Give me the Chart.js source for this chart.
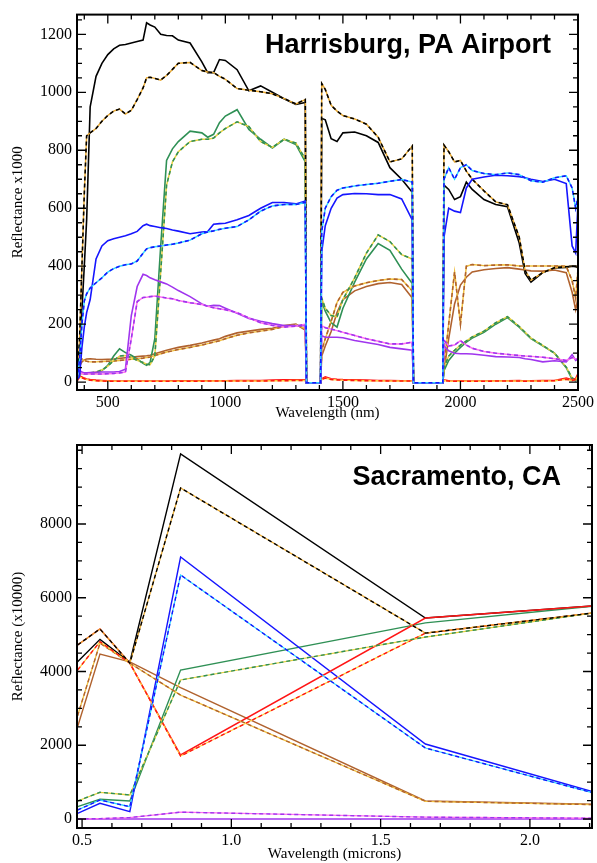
<!DOCTYPE html>
<html>
<head>
<meta charset="utf-8">
<script src="https://cdn.jsdelivr.net/npm/chart.js@4.4.1/dist/chart.umd.min.js"></script>
<style>
  html, body { margin: 0; padding: 0; background: #fff; }
  canvas { display: block; }
</style>
</head>
<body>
<canvas id="harrisburg" width="597" height="425"></canvas>
<canvas id="sacramento" width="597" height="438"></canvas>
<script>
// ---- Harrisburg, PA Airport (reflectance x1000 vs wavelength in nm) ----
var topNm = [
  370, 380, 390, 400, 410, 425, 450, 475, 500, 525,
  550, 575, 600, 625, 650, 665, 680, 700, 725, 750,
  775, 800, 850, 900, 925, 950, 975, 1000, 1050, 1100,
  1150, 1200, 1250, 1300, 1340, 1345, 1405, 1410, 1425, 1450,
  1475, 1500, 1550, 1600, 1650, 1700, 1750, 1795, 1800, 1925,
  1930, 1950, 1975, 2000, 2025, 2050, 2100, 2150, 2200, 2250,
  2275, 2300, 2350, 2400, 2450, 2475, 2490, 2500
];
var blackSolid = [
  30, 100, 250, 400, 560, 950, 1055, 1100, 1130, 1150,
  1162, 1165, 1170, 1175, 1180, 1240, 1232, 1225, 1200, 1196,
  1195, 1180, 1170, 1105, 1068, 1068, 1113, 1110, 1078, 1005,
  1022, 1000, 978, 958, 965, -2, -2, 910, 905, 840,
  830, 860, 863, 850, 827, 740, 700, 655, -2, -2,
  680, 665, 630, 640, 690, 665, 630, 613, 605, 480,
  375, 345, 378, 394, 396, 400, 398, 395
];
var blackDashed = [
  20, 150, 400, 650, 850, 860, 875, 900, 920, 935,
  942, 925, 938, 975, 1015, 1050, 1052, 1048, 1042, 1058,
  1079, 1100, 1103, 1075, 1070, 1068, 1055, 1045, 1013, 1007,
  1002, 995, 978, 960, 975, -2, -2, 1030, 1010, 955,
  935, 920, 908, 890, 845, 760, 770, 815, -2, -2,
  818, 795, 760, 765, 728, 700, 660, 622, 612, 500,
  385, 352, 378, 395, 398, 400, 400, 398
];
var blueSolid = [
  10, 20, 120, 190, 240, 285, 425, 470, 488, 495,
  500, 505, 512, 520, 540, 545, 540, 537, 533, 530,
  525, 521, 512, 518, 520, 545, 547, 548, 560, 575,
  600, 620, 620, 615, 625, -2, -2, 450, 540, 600,
  635, 647, 651, 650, 647, 647, 632, 560, -2, -2,
  500, 600, 590, 585, 670, 700, 708, 714, 712, 709,
  705, 700, 692, 700, 685, 470, 445, 620
];
var blueDashed = [
  10, 80, 200, 280, 305, 325, 343, 360, 380, 392,
  400, 405, 408, 418, 445, 460, 464, 467, 470, 473,
  476, 480, 490, 512, 518, 522, 527, 531, 537, 560,
  590, 608, 613, 613, 620, -2, -2, 520, 600, 640,
  662, 670, 677, 682, 686, 693, 699, 690, -2, -2,
  700, 740, 700, 740, 750, 730, 720, 716, 722, 716,
  705, 695, 690, 705, 712, 670, 600, 640
];
var greenSolid = [
  20, 30, 30, 30, 30, 31, 32, 40, 58, 90,
  115, 102, 93, 80, 65, 58, 68, 150, 470, 765,
  805, 830, 866, 860, 845, 855, 895, 918, 940, 872,
  838, 808, 838, 820, 760, -2, -2, 280, 245, 205,
  190, 255, 345, 425, 478, 455, 390, 340, -2, -2,
  40, 75, 100, 120, 138, 152, 172, 200, 223, 190,
  170, 150, 125, 100, 50, 10, 5, 20
];
var greenDashed = [
  20, 28, 30, 30, 30, 32, 35, 42, 55, 75,
  90, 92, 85, 75, 68, 62, 60, 90, 380, 680,
  760, 795, 830, 838, 838, 842, 860, 875, 898, 882,
  830, 810, 838, 825, 770, -2, -2, 290, 255, 230,
  225, 285, 360, 445, 508, 485, 440, 425, -2, -2,
  50, 90, 110, 128, 142, 156, 176, 205, 226, 192,
  172, 152, 127, 100, 52, 15, 8, 25
];
var purpleSolid = [
  30, 40, 35, 32, 32, 33, 34, 35, 35, 35,
  37, 45, 230, 330, 372, 368, 360, 353, 346, 339,
  328, 316, 295, 270, 262, 265, 264, 255, 238, 220,
  210, 202, 195, 195, 195, -2, -2, 160, 155, 155,
  155, 153, 144, 137, 130, 120, 115, 110, -2, -2,
  125, 108, 100, 98, 98, 97, 93, 88, 87, 85,
  81, 78, 70, 74, 70, 95, 75, 80
];
var purpleDashed = [
  25, 30, 30, 28, 28, 28, 28, 28, 29, 30,
  32, 35, 150, 278, 292, 293, 295, 297, 294, 290,
  288, 282, 274, 268, 262, 257, 253, 250, 240, 222,
  205, 196, 190, 193, 200, -2, -2, 195, 188, 183,
  178, 172, 161, 150, 141, 132, 132, 138, -2, -2,
  145, 125, 128, 143, 128, 117, 106, 100, 96, 92,
  90, 89, 86, 81, 75, 85, 80, 78
];
var brownSolid = [
  40, 55, 70, 77, 80, 81, 79, 78, 79, 80,
  82, 84, 86, 88, 90, 91, 93, 98, 104, 110,
  115, 120, 127, 135, 140, 145, 150, 158, 170, 176,
  182, 186, 195, 200, 180, -2, -2, 90, 125, 175,
  240, 285, 315, 330, 340, 344, 337, 290, -2, -2,
  40, 150, 270, 335, 362, 380, 388, 392, 395, 390,
  387, 384, 383, 387, 378, 310, 250, 290
];
var brownDashed = [
  50, 75, 80, 75, 72, 70, 70, 71, 72, 73,
  75, 77, 79, 81, 83, 85, 87, 92, 98, 104,
  108, 113, 120, 128, 133, 138, 143, 150, 162, 170,
  176, 182, 192, 198, 185, -2, -2, 110, 150, 210,
  275, 310, 332, 343, 351, 356, 354, 315, -2, -2,
  55, 200, 380, 200, 400, 406, 402, 404, 405, 401,
  401, 401, 401, 401, 400, 350, 290, 390
];
var redSolid = [
  8, 22, 18, 14, 11, 9, 7, 6, 5, 4,
  4, 4, 4, 4, 4, 4, 4, 4, 4, 4,
  5, 5, 5, 5, 5, 5, 5, 5, 6, 6,
  6, 7, 8, 8, 8, -2, -2, 12, 18, 12,
  10, 9, 8, 7, 6, 6, 5, 5, -2, -2,
  8, 5, 4, 5, 4, 4, 4, 5, 5, 6,
  4, 5, 6, 6, 14, 8, 12, 30
];
var redDashed = [
  5, 18, 15, 12, 9, 7, 5, 4, 3, 3,
  3, 3, 3, 3, 3, 3, 3, 3, 3, 3,
  3, 3, 3, 3, 4, 4, 4, 4, 4, 4,
  4, 5, 5, 6, 6, -2, -2, 9, 14, 9,
  8, 7, 6, 5, 5, 4, 4, 4, -2, -2,
  6, 4, 3, 3, 3, 3, 3, 4, 4, 4,
  3, 4, 4, 5, 10, 6, 9, 22
];
var topXTicks = [500, 1000, 1500, 2000, 2500];
var topYTicks = [0, 200, 400, 600, 800, 1000, 1200];

// ---- Sacramento, CA (reflectance x10000 vs wavelength in microns) ----
var botMicrons = [0.485, 0.56, 0.66, 0.83, 1.65, 2.215];
var sBlackSolid = [4266, 4872, 4250, 9900, 5450, 5780];
var sBlackDashed = [4719, 5153, 4226, 8976, 5040, 5590];
var sBlueSolid = [154, 425, 198, 7105, 2034, 732];
var sBlueDashed = [244, 515, 333, 6617, 1925, 700];
var sGreenSolid = [334, 534, 488, 4040, 5320, 5776];
var sGreenDashed = [488, 724, 651, 3770, 4935, 5590];
var sRedSolid = [4719, 5153, 4226, 1736, 5450, 5780];
var sRedDashed = [4040, 4810, 4226, 1708, 5040, 5590];
var sBrownSolid = [2500, 4475, 4260, 3560, 490, 400];
var sBrownDashed = [2800, 4770, 4226, 3360, 480, 390];
var sPurpleSolid = [0, 0, 0, 0, 0, 0];
var sPurpleDashed = [0, 10, 40, 185, 50, 20];
var botXTicks = [0.5, 1.0, 1.5, 2.0];
var botYTicks = [0, 2000, 4000, 6000, 8000];

// colours: line colour and the tint seen in the gaps of the dashed copy
var BLACK = "#000000", BLUE = "#1515ff", GREEN = "#2f9055",
    PURPLE = "#a035ee", BROWN = "#b0622e", RED = "#ff1515";
var GAP = {};
GAP[BLACK] = "#e8a830"; GAP[BLUE] = "#30d8ff"; GAP[GREEN] = "#e8d040";
GAP[PURPLE] = "#ff70f0"; GAP[BROWN] = "#f0c040"; GAP[RED] = "#ffd040";

var tickFont = { family: '"Liberation Serif", "Times New Roman", serif', size: 16 };

function points(xs, ys) {
  return xs.map(function (x, i) { return { x: x, y: ys[i] }; });
}

// a solid series is one dataset; a dashed series is dashes over a tinted line
function series(xs, ys, color, dashed, width) {
  var main = {
    data: points(xs, ys), borderColor: color, borderWidth: width,
    borderDash: dashed ? [4, 3] : [], pointRadius: 0, tension: 0, showLine: true, fill: false
  };
  if (!dashed) return [main];
  var under = {
    data: points(xs, ys), borderColor: GAP[color], borderWidth: width * 0.9,
    pointRadius: 0, tension: 0, showLine: true, fill: false
  };
  return [main, under];
}

function xAxis(min, max, ticks, fmt) {
  return {
    type: "linear", min: min, max: max,
    afterBuildTicks: function (s) { s.ticks = ticks.map(function (v) { return { value: v }; }); },
    afterFit: function (s) { s.height = 35; },
    grid: { display: false, drawTicks: false },
    border: { display: false },
    ticks: { padding: 3, color: "#000", font: tickFont, maxRotation: 0, autoSkip: false, callback: fmt }
  };
}

function yAxis(min, max, ticks) {
  return {
    type: "linear", min: min, max: max,
    afterBuildTicks: function (s) { s.ticks = ticks.map(function (v) { return { value: v }; }); },
    afterFit: function (s) { s.width = 77; },
    grid: { display: false, drawTicks: false },
    border: { display: false },
    ticks: { padding: 5, color: "#000", font: tickFont, autoSkip: false,
             callback: function (v) { return String(v); } }
  };
}

// frame, inward ticks on all four sides, panel title and axis titles
function framePlugin(cfg) {
  return {
    id: "frame",
    afterDraw: function (chart) {
      var ctx = chart.ctx, a = chart.chartArea, x = chart.scales.x, y = chart.scales.y;
      ctx.save();
      ctx.strokeStyle = "#000";
      ctx.lineWidth = 1.3;
      ctx.beginPath();
      function xt(v, len) {
        var p = x.getPixelForValue(v);
        ctx.moveTo(p, a.bottom); ctx.lineTo(p, a.bottom - len);
        ctx.moveTo(p, a.top); ctx.lineTo(p, a.top + len);
      }
      function yt(v, len) {
        var p = y.getPixelForValue(v);
        ctx.moveTo(a.left, p); ctx.lineTo(a.left + len, p);
        ctx.moveTo(a.right, p); ctx.lineTo(a.right - len, p);
      }
      function minors(scale, step, major, draw) {
        for (var k = Math.ceil(scale.min / step - 1e-9); k * step <= scale.max + 1e-9; k++) {
          var v = k * step;
          var isMajor = major.some(function (m) { return Math.abs(m - v) < step / 10; });
          draw(v, isMajor ? 9 : 5);
        }
      }
      minors(x, cfg.xStep, cfg.xMajor, xt);
      minors(y, cfg.yStep, cfg.yMajor, yt);
      ctx.stroke();
      ctx.lineWidth = 2;
      ctx.strokeRect(a.left, a.top, a.right - a.left, a.bottom - a.top);

      ctx.fillStyle = "#000";
      ctx.font = 'bold 27px "Liberation Sans", Arial, sans-serif';
      ctx.textAlign = "right";
      ctx.textBaseline = "alphabetic";
      ctx.fillText(cfg.title, a.right - cfg.titleInset, a.top + cfg.titleDrop);

      ctx.font = '15px "Liberation Serif", "Times New Roman", serif';
      ctx.textAlign = "center";
      ctx.textBaseline = "middle";
      ctx.fillText(cfg.xTitle, (a.left + a.right) / 2, a.bottom + cfg.xTitleDrop);
      ctx.translate(18.5, (a.top + a.bottom) / 2);
      ctx.rotate(-Math.PI / 2);
      ctx.fillText(cfg.yTitle, 0, 0);
      ctx.restore();
    }
  };
}

var W1 = 1.6;
new Chart(document.getElementById("harrisburg").getContext("2d"), {
  type: "scatter",
  data: {
    datasets: [].concat(
      series(topNm, blueDashed, BLUE, true, W1),
      series(topNm, blueSolid, BLUE, false, W1),
      series(topNm, purpleDashed, PURPLE, true, W1),
      series(topNm, purpleSolid, PURPLE, false, W1),
      series(topNm, redDashed, RED, true, W1),
      series(topNm, redSolid, RED, false, W1),
      series(topNm, blackDashed, BLACK, true, W1),
      series(topNm, greenDashed, GREEN, true, W1),
      series(topNm, brownDashed, BROWN, true, W1),
      series(topNm, greenSolid, GREEN, false, W1),
      series(topNm, brownSolid, BROWN, false, W1),
      series(topNm, blackSolid, BLACK, false, W1)
    )
  },
  options: {
    responsive: false,
    animation: false,
    events: [],
    layout: { autoPadding: false, padding: { left: 0, right: 15, top: 11, bottom: 0 } },
    plugins: { legend: { display: false }, tooltip: { enabled: false } },
    scales: {
      x: xAxis(369, 2500, topXTicks, function (v) { return String(v); }),
      y: yAxis(-27, 1268, topYTicks)
    }
  },
  plugins: [framePlugin({
    xStep: 100, xMajor: topXTicks, yStep: 50, yMajor: topYTicks,
    title: "Harrisburg, PA Airport", titleInset: 27, titleDrop: 38,
    xTitle: "Wavelength (nm)", xTitleDrop: 23,
    yTitle: "Reflectance x1000"
  })]
});

var W2 = 1.4;
new Chart(document.getElementById("sacramento").getContext("2d"), {
  type: "scatter",
  data: {
    datasets: [].concat(
      series(botMicrons, sPurpleDashed, PURPLE, true, W2),
      series(botMicrons, sPurpleSolid, PURPLE, false, W2),
      series(botMicrons, sBlackDashed, BLACK, true, W2),
      series(botMicrons, sBlueDashed, BLUE, true, W2),
      series(botMicrons, sGreenDashed, GREEN, true, W2),
      series(botMicrons, sRedDashed, RED, true, W2),
      series(botMicrons, sBrownDashed, BROWN, true, W2),
      series(botMicrons, sRedSolid, RED, false, W2),
      series(botMicrons, sBlueSolid, BLUE, false, W2),
      series(botMicrons, sGreenSolid, GREEN, false, W2),
      series(botMicrons, sBrownSolid, BROWN, false, W2),
      series(botMicrons, sBlackSolid, BLACK, false, W2)
    )
  },
  options: {
    responsive: false,
    animation: false,
    events: [],
    layout: { autoPadding: false, padding: { left: 0, right: 5, top: 20, bottom: 0 } },
    plugins: { legend: { display: false }, tooltip: { enabled: false } },
    scales: {
      x: xAxis(0.483, 2.208, botXTicks, function (v) { return v.toFixed(1); }),
      y: yAxis(-244, 10142, botYTicks)
    }
  },
  plugins: [framePlugin({
    xStep: 0.1, xMajor: botXTicks, yStep: 500, yMajor: botYTicks,
    title: "Sacramento, CA", titleInset: 31, titleDrop: 40,
    xTitle: "Wavelength (microns)", xTitleDrop: 26,
    yTitle: "Reflectance (x10000)"
  })]
});
</script>
</body>
</html>
